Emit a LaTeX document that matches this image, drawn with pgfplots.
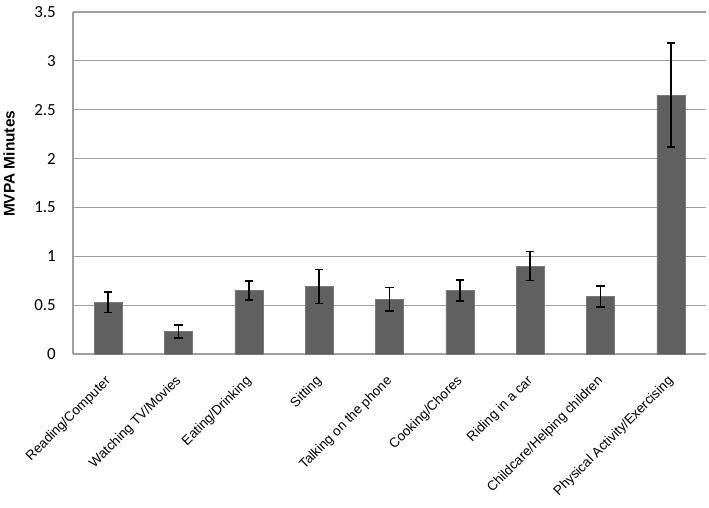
\documentclass[border=0pt]{standalone}
\usepackage{pgfplots}
\pgfplotsset{compat=1.18}
\usepackage{fontspec}
\setmainfont{Liberation Sans}
\newfontfamily\carlito{Carlito}
\definecolor{barcol}{RGB}{96,96,96}
\definecolor{gridcol}{RGB}{160,160,160}
\begin{document}
\begin{tikzpicture}
\begin{axis}[
  at={(0,0)}, anchor=south west,
  scale only axis,
  width=633bp, height=342bp,
  xmin=-0.5, xmax=8.5,
  ymin=0, ymax=3.5,
  ytick={0,0.5,1,1.5,2,2.5,3,3.5},
  yticklabels={0,0.5,1,1.5,2,2.5,3,3.5},
  xtick={0,1,2,3,4,5,6,7,8},
  xticklabels={Reading/Computer,Watching TV/Movies,Eating/Drinking,Sitting,Talking on the phone,Cooking/Chores,Riding in a car,Childcare/Helping children,Physical Activity/Exercising},
  axis x line=bottom, axis y line=left,
  axis line style={-, gridcol, line width=1.2bp},
  major tick length=0pt,
  ymajorgrids, grid style={gridcol, line width=1.2bp},
  yticklabel style={font=\carlito\fontsize{17}{17}\selectfont, anchor=east, inner sep=0pt, xshift=-17bp},
  xticklabel style={font=\fontsize{13.5}{13.5}\selectfont, inner sep=0pt, xshift=0.5bp, yshift=-25bp, rotate=45, anchor=east},
  ylabel={\bfseries MVPA Minutes},
  every axis y label/.style={at={(axis description cs:-0.101,0.556)}, rotate=90, anchor=center, font=\fontsize{15.5}{15.5}\selectfont},
  ybar, bar width=28bp, bar shift=0pt,
]
\addplot[fill=barcol, draw=barcol!85!white, line width=0.6bp,
  error bars/.cd, y dir=both, y explicit,
  error bar style={black, line width=1.8bp},
  error mark options={rotate=90, mark size=4.2bp, line width=1.8bp, black}]
  coordinates {
  (0,0.53) +- (0,0.105)
  (1,0.23) +- (0,0.063)
  (2,0.65) +- (0,0.098)
  (3,0.69) +- (0,0.174)
  (4,0.56) +- (0,0.12)
  (5,0.65) +- (0,0.11)
  (6,0.90) +- (0,0.148)
  (7,0.59) +- (0,0.11)
  (8,2.65) +- (0,0.53)
  };
\end{axis}
\pgfresetboundingbox
\useasboundingbox (-73bp,-154bp) rectangle (636bp,354bp);
\end{tikzpicture}
\end{document}
